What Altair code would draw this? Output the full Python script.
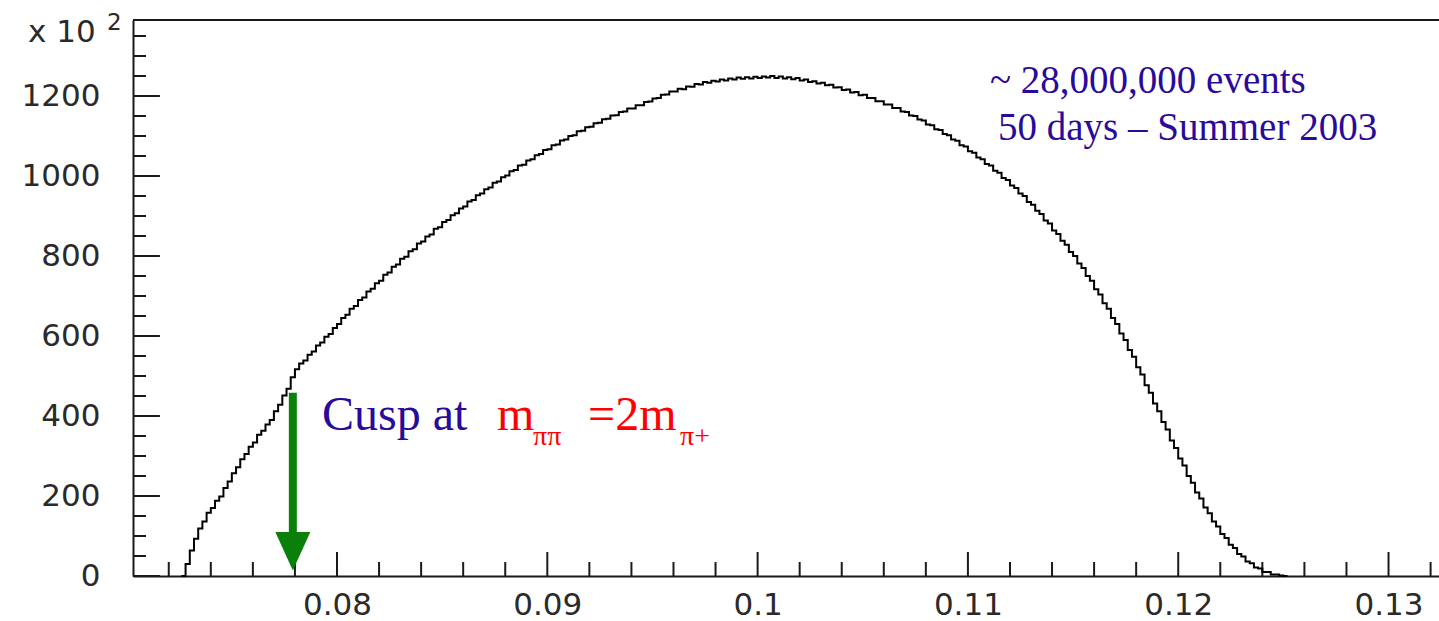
import altair as alt
import numpy as np
import pandas as pd

# Histogram of m^2(pi0 pi0), bins of 0.0002 GeV^2 starting at 0.0728
BIN_START = 0.0728
BIN_WIDTH = 0.0002
counts = [
    30, 64, 93, 119, 136, 158, 170, 188, 199, 220,
    236, 257, 272, 292, 305, 323, 334, 353, 363, 379,
    390, 412, 428, 451, 468, 497, 517, 531, 539, 553,
    561, 576, 584, 598, 605, 620, 630, 645, 653, 668,
    675, 690, 696, 711, 718, 732, 738, 753, 759, 773,
    779, 793, 798, 812, 817, 831, 836, 849, 854, 868,
    872, 885, 890, 902, 907, 919, 924, 936, 940, 952,
    956, 967, 971, 983, 986, 997, 1001, 1012, 1015, 1026,
    1028, 1039, 1042, 1052, 1055, 1065, 1067, 1077, 1079, 1089,
    1091, 1100, 1102, 1112, 1113, 1122, 1123, 1132, 1133, 1142,
    1143, 1151, 1152, 1160, 1161, 1169, 1169, 1177, 1177, 1185,
    1186, 1194, 1195, 1203, 1204, 1211, 1211, 1218, 1217, 1224,
    1223, 1230, 1229, 1235, 1233, 1238, 1236, 1241, 1239, 1244,
    1241, 1246, 1243, 1247, 1244, 1248, 1245, 1249, 1246, 1250,
    1245, 1249, 1244, 1247, 1242, 1245, 1239, 1241, 1235, 1237,
    1231, 1233, 1227, 1228, 1221, 1222, 1215, 1216, 1209, 1210,
    1202, 1203, 1195, 1195, 1187, 1187, 1179, 1179, 1170, 1170,
    1161, 1160, 1151, 1150, 1141, 1139, 1129, 1127, 1117, 1115,
    1105, 1102, 1091, 1088, 1077, 1074, 1062, 1058, 1046, 1042,
    1030, 1026, 1013, 1008, 995, 990, 976, 970, 956, 950,
    935, 928, 913, 905, 889, 881, 864, 855, 838, 828,
    810, 800, 781, 770, 750, 738, 717, 704, 682, 668,
    645, 630, 606, 590, 565, 548, 522, 504, 477, 458,
    431, 412, 385, 366, 339, 320, 294, 276, 250, 233,
    209, 194, 171, 157, 136, 124, 105, 95, 78, 70,
    55, 49, 36, 32, 21, 19, 10, 10, 4, 4,
    1, 0,
]

# Axis ranges and tick positions
X_MIN, X_MAX = 0.0703, 0.1324
Y_MIN, Y_MAX = 0, 1390
x_major = [0.08, 0.09, 0.10, 0.11, 0.12, 0.13]
x_minor = [0.072, 0.074, 0.076, 0.078, 0.082, 0.084, 0.086, 0.088,
           0.092, 0.094, 0.096, 0.098, 0.102, 0.104, 0.106, 0.108,
           0.112, 0.114, 0.116, 0.118, 0.122, 0.124, 0.126, 0.128, 0.132]
y_major = [0, 200, 400, 600, 800, 1000, 1200]
y_minor = [50, 100, 150, 250, 300, 350, 450, 500, 550, 650, 700, 750,
           850, 900, 950, 1050, 1100, 1150, 1250, 1300, 1350]

# Cusp position: m_pipi^2 = (2 m_pi+)^2
CUSP_X = 0.0779

BLUE = "#2a0a9a"
RED = "#ff0000"
GREEN = "#0a800a"
INK = "#1a1a1a"
LABEL = "#2a2a2a"

W, H = 1306, 556

edges = BIN_START + BIN_WIDTH * np.arange(len(counts) + 1)
hist = pd.DataFrame({
    "x": np.concatenate([[BIN_START - BIN_WIDTH], edges]),
    "y": [0] + counts + [counts[-1]],
})

xs = alt.Scale(domain=[X_MIN, X_MAX], nice=False, zero=False)
ys = alt.Scale(domain=[Y_MIN, Y_MAX], nice=False, zero=False)

x_axis = alt.Axis(
    values=x_major, format="~g", ticks=False, tickSize=0, grid=False,
    domainColor=INK, domainWidth=2, labelFont="DejaVu Sans", labelFontSize=31,
    labelColor=LABEL, labelPadding=14, title=None, labelFlush=False,
)
y_axis = alt.Axis(
    values=y_major, format="d", ticks=False, tickSize=0, grid=False,
    domainColor=INK, domainWidth=2, labelFont="DejaVu Sans", labelFontSize=31,
    labelColor=LABEL, labelPadding=33, title=None,
)

line = alt.Chart(hist).mark_line(
    interpolate="step-after", color="black", strokeWidth=2
).encode(
    x=alt.X("x:Q", scale=xs, axis=x_axis),
    y=alt.Y("y:Q", scale=ys, axis=y_axis),
)

# Inward-pointing ticks drawn as short rules
xt = pd.DataFrame({"x": x_major + x_minor,
                   "y0": [0] * (len(x_major) + len(x_minor)),
                   "y1": [60] * len(x_major) + [35] * len(x_minor)})
x_ticks = alt.Chart(xt).mark_rule(color=INK, strokeWidth=2).encode(
    x="x:Q", y="y0:Q", y2="y1:Q"
)
yt = pd.DataFrame({"y": y_major + y_minor,
                   "x0": [X_MIN] * (len(y_major) + len(y_minor)),
                   "x1": [X_MIN + 0.00128] * len(y_major) + [X_MIN + 0.00062] * len(y_minor)})
y_ticks = alt.Chart(yt).mark_rule(color=INK, strokeWidth=2).encode(
    y="y:Q", x="x0:Q", x2="x1:Q"
)

top_frame = alt.Chart(pd.DataFrame({"x0": [X_MIN], "x1": [X_MAX], "y": [Y_MAX]})).mark_rule(
    color=INK, strokeWidth=2
).encode(x="x0:Q", x2="x1:Q", y="y:Q")

# Arrow marking the cusp
shaft = alt.Chart(pd.DataFrame({"x": [CUSP_X], "y1": [458], "y2": [100]})).mark_rule(
    color=GREEN, strokeWidth=8
).encode(x="x:Q", y="y1:Q", y2="y2:Q")
head = alt.Chart(pd.DataFrame({"x": [CUSP_X], "y": [62]})).mark_point(
    shape="M-1,-1.1L1,-1.1L0,1.1Z", size=1225, filled=True, color=GREEN, opacity=1
).encode(x="x:Q", y="y:Q")

# Text annotations
notes = pd.DataFrame([
    {"t": "~ 28,000,000 events", "x": 0.11105, "y": 1207, "c": BLUE, "s": 39},
    {"t": "50 days \u2013 Summer 2003", "x": 0.11143, "y": 1090, "c": BLUE, "s": 39},
    {"t": "Cusp at", "x": 0.07929, "y": 365, "c": BLUE, "s": 48},
    {"t": "m", "x": 0.08761, "y": 365, "c": RED, "s": 48},
    {"t": "\u03c0\u03c0", "x": 0.08932, "y": 327, "c": RED, "s": 28},
    {"t": "=2m", "x": 0.09194, "y": 365, "c": RED, "s": 48},
    {"t": "\u03c0+", "x": 0.09631, "y": 327, "c": RED, "s": 28},
])
text = alt.Chart(notes).mark_text(
    font="Liberation Serif", align="left", baseline="alphabetic"
).encode(
    x="x:Q", y="y:Q", text="t:N",
    color=alt.Color("c:N", scale=None), size=alt.Size("s:Q", scale=None),
)

# Axis exponent label
exp_main = alt.Chart(pd.DataFrame({"t": ["x 10"]})).mark_text(
    font="DejaVu Sans", fontSize=31, align="left", baseline="alphabetic", color=LABEL
).encode(x=alt.value(-105), y=alt.value(22), text="t:N")
exp_pow = alt.Chart(pd.DataFrame({"t": ["2"]})).mark_text(
    font="DejaVu Sans", fontSize=23, align="left", baseline="alphabetic", color=LABEL
).encode(x=alt.value(-26), y=alt.value(10), text="t:N")

chart = alt.layer(
    top_frame, x_ticks, y_ticks, line, shaft, head, text, exp_main, exp_pow
).properties(
    width=W, height=H,
    autosize=alt.AutoSizeParams(type="none"),
    padding={"left": 133, "top": 20, "right": 0, "bottom": 45},
    background="white",
).configure_view(stroke=None)

chart.save("out.html", embed_options={"renderer": "svg", "actions": False})
